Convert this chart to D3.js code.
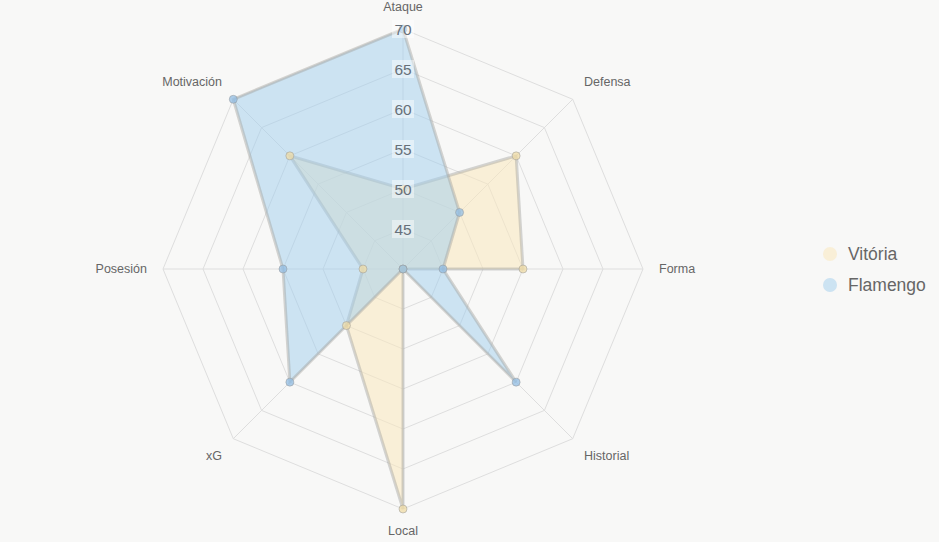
<!DOCTYPE html>
<html>
<head>
<meta charset="utf-8">
<script src="https://cdn.jsdelivr.net/npm/d3@7"></script>
<style>
  body { margin: 0; background: #f8f8f7; }
  svg { display: block; font-family: "Liberation Sans", Arial, sans-serif; }
</style>
</head>
<body>
<script>
const axes = ["Ataque", "Defensa", "Forma", "Historial", "Local", "xG", "Posesión", "Motivación"];
const vitoria = [50, 60, 55, 40, 70, 50, 45, 60];
const flamengo = [70, 50, 45, 60, 40, 60, 55, 70];
const ticks = [45, 50, 55, 60, 65, 70];
const seriesNames = ["Vitória", "Flamengo"];

const W = 939, H = 542;
const cx = 403, cy = 269, R = 240;

const svg = d3.select("body").append("svg")
  .attr("width", W)
  .attr("height", H);

svg.append("rect").attr("width", W).attr("height", H).attr("fill", "#f8f8f7");

const r = d3.scaleLinear().domain([40, 70]).range([0, R]);
const ang = i => i * 2 * Math.PI / axes.length;
const px = (i, v) => cx + r(v) * Math.sin(ang(i));
const py = (i, v) => cy - r(v) * Math.cos(ang(i));

const g = svg.append("g");

// rings
ticks.forEach(t => {
  g.append("polygon")
    .attr("points", axes.map((a, i) => px(i, t) + "," + py(i, t)).join(" "))
    .attr("fill", "none")
    .attr("stroke", "#dedede")
    .attr("stroke-width", 1);
});

// spokes
axes.forEach((a, i) => {
  g.append("line")
    .attr("x1", cx).attr("y1", cy)
    .attr("x2", px(i, 70)).attr("y2", py(i, 70))
    .attr("stroke", "#dedede")
    .attr("stroke-width", 1);
});

// axis labels
axes.forEach((a, i) => {
  const rr = R + 16;
  const x = cx + rr * Math.sin(ang(i));
  const y = cy - rr * Math.cos(ang(i));
  const s = Math.round(Math.sin(ang(i)) * 1000) / 1000;
  const c = Math.round(Math.cos(ang(i)) * 1000) / 1000;
  let anchor = s > 0 ? "start" : (s < 0 ? "end" : "middle");
  let base = c > 0 ? "auto" : (c < 0 ? "hanging" : "central");
  let yy = y;
  if (c > 0) yy = y - 2;
  if (c < 0) yy = y + 1;
  g.append("text")
    .attr("x", x).attr("y", yy)
    .attr("text-anchor", anchor)
    .attr("dominant-baseline", base)
    .attr("font-size", "12.5px")
    .attr("fill", "#666")
    .text(a);
});

const series = [
  { name: seriesNames[0], values: vitoria, fill: "rgba(250,232,190,0.55)", dot: "rgba(240,220,165,0.75)" },
  { name: seriesNames[1], values: flamengo, fill: "rgba(160,205,238,0.5)", dot: "rgba(145,190,228,0.75)" }
];

series.forEach(s => {
  const pts = s.values.map((v, i) => [px(i, v), py(i, v)]);
  g.append("polygon")
    .attr("points", pts.map(p => p.join(",")).join(" "))
    .attr("fill", s.fill)
    .attr("stroke", "rgba(165,165,160,0.45)")
    .attr("stroke-width", 3)
    .attr("stroke-linejoin", "miter");
});

series.forEach(s => {
  g.selectAll(null)
    .data(s.values)
    .enter().append("circle")
    .attr("cx", (v, i) => px(i, v))
    .attr("cy", (v, i) => py(i, v))
    .attr("r", 4)
    .attr("fill", s.dot)
    .attr("stroke", "rgba(150,150,150,0.5)")
    .attr("stroke-width", 1);
});

// tick labels with backdrop
ticks.forEach(t => {
  const y = cy - r(t);
  g.append("rect")
    .attr("x", cx - 11).attr("y", y - 9)
    .attr("width", 22).attr("height", 18)
    .attr("fill", "rgba(255,255,255,0.45)");
  g.append("text")
    .attr("x", cx).attr("y", y)
    .attr("text-anchor", "middle")
    .attr("dominant-baseline", "central")
    .attr("font-size", "15.5px")
    .attr("fill", "#66707a")
    .text(t);
});

// legend
const leg = svg.append("g");
series.forEach((s, i) => {
  const y = 254 + i * 31;
  leg.append("circle")
    .attr("cx", 830).attr("cy", y)
    .attr("r", 7)
    .attr("fill", s.fill);
  leg.append("text")
    .attr("x", 848).attr("y", y)
    .attr("dominant-baseline", "central")
    .attr("font-size", "17.5px")
    .attr("fill", "#666")
    .text(s.name);
});
</script>
</body>
</html>
